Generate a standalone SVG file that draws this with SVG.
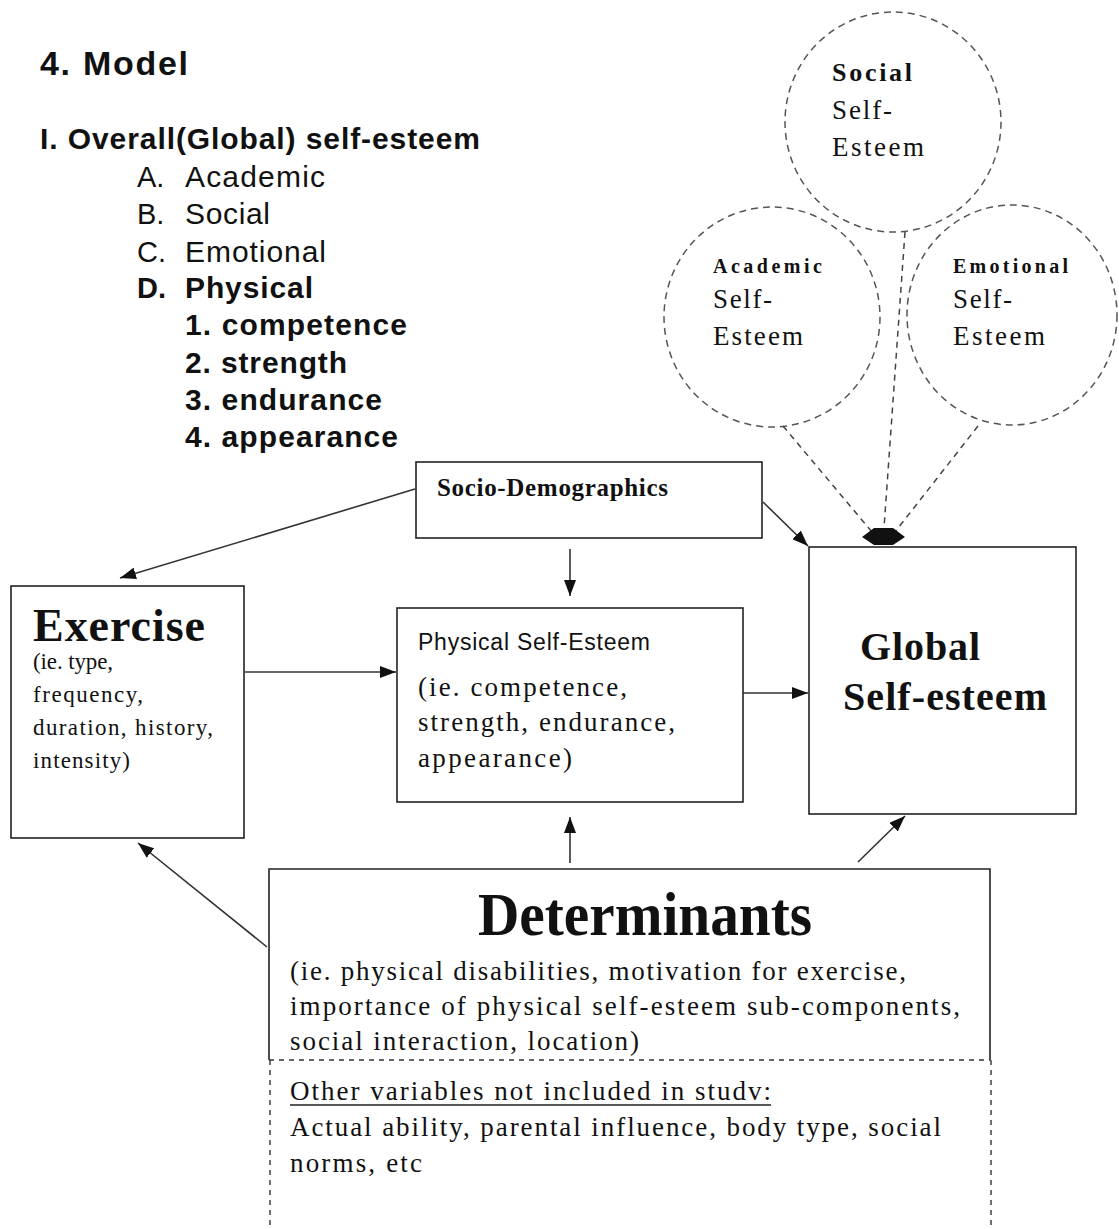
<svg xmlns="http://www.w3.org/2000/svg" width="1119" height="1229" viewBox="0 0 1119 1229">
<style>
  .sans { font-family: "Liberation Sans", Arial, sans-serif; fill: #111; }
  .sb { font-family: "Liberation Sans", Arial, sans-serif; font-weight: bold; fill: #111; }
  .ser { font-family: "Liberation Serif", "Times New Roman", serif; fill: #111; }
  .serb { font-family: "Liberation Serif", "Times New Roman", serif; font-weight: bold; fill: #111; }
  .box { fill: none; stroke: #222; stroke-width: 1.6; }
  .circ { fill: none; stroke: #555; stroke-width: 1.5; stroke-dasharray: 7 5; }
  .conn { fill: none; stroke: #333; stroke-width: 1.6; }
  .dconn { fill: none; stroke: #444; stroke-width: 1.5; stroke-dasharray: 6 5; }
  .dbox { fill: none; stroke: #333; stroke-width: 1.4; stroke-dasharray: 5 5; }
</style>
<defs>
  <marker id="arr" viewBox="0 0 16 12" refX="16" refY="6" markerWidth="16" markerHeight="12" markerUnits="userSpaceOnUse" orient="auto">
    <path d="M0,0 L16,6 L0,12 z" fill="#111"/>
  </marker>
</defs>
<rect width="1119" height="1229" fill="#fff"/>

<g id="outline">
  <text class="sb" x="40" y="75" font-size="34" textLength="148" lengthAdjust="spacing">4. Model</text>
  <text class="sb" x="40" y="149" font-size="30" textLength="440" lengthAdjust="spacing">I. Overall(Global) self-esteem</text>
  <text class="sans" x="137" y="187" font-size="29">A.</text>
  <text class="sans" x="185" y="187" font-size="30" textLength="140" lengthAdjust="spacing">Academic</text>
  <text class="sans" x="137" y="224" font-size="29">B.</text>
  <text class="sans" x="185" y="224" font-size="30" textLength="85" lengthAdjust="spacing">Social</text>
  <text class="sans" x="137" y="262" font-size="29">C.</text>
  <text class="sans" x="185" y="262" font-size="30" textLength="141" lengthAdjust="spacing">Emotional</text>
  <text class="sb" x="137" y="298" font-size="29">D.</text>
  <text class="sb" x="185" y="298" font-size="30" textLength="128" lengthAdjust="spacing">Physical</text>
  <text class="sb" x="185" y="335" font-size="30" textLength="222" lengthAdjust="spacing">1. competence</text>
  <text class="sb" x="185" y="373" font-size="30" textLength="162" lengthAdjust="spacing">2. strength</text>
  <text class="sb" x="185" y="410" font-size="30" textLength="197" lengthAdjust="spacing">3. endurance</text>
  <text class="sb" x="185" y="447" font-size="30" textLength="213" lengthAdjust="spacing">4. appearance</text>
</g>

<g id="node-social">
  <ellipse class="circ" cx="893" cy="122" rx="108" ry="110"/>
  <text class="serb" x="832" y="81" font-size="26" textLength="80" lengthAdjust="spacing">Social</text>
  <text class="ser" x="832" y="119" font-size="27" textLength="60" lengthAdjust="spacing">Self-</text>
  <text class="ser" x="832" y="156" font-size="27" textLength="92" lengthAdjust="spacing">Esteem</text>
</g>

<g id="node-academic">
  <ellipse class="circ" cx="772" cy="317" rx="108" ry="110"/>
  <text class="serb" x="713" y="273" font-size="20" textLength="109" lengthAdjust="spacing">Academic</text>
  <text class="ser" x="713" y="308" font-size="27" textLength="59" lengthAdjust="spacing">Self-</text>
  <text class="ser" x="713" y="345" font-size="27" textLength="90" lengthAdjust="spacing">Esteem</text>
</g>

<g id="node-emotional">
  <ellipse class="circ" cx="1012" cy="315" rx="105" ry="110"/>
  <text class="serb" x="953" y="273" font-size="20" textLength="115" lengthAdjust="spacing">Emotional</text>
  <text class="ser" x="953" y="308" font-size="27" textLength="59" lengthAdjust="spacing">Self-</text>
  <text class="ser" x="953" y="345" font-size="27" textLength="92" lengthAdjust="spacing">Esteem</text>
</g>

<g id="node-socio">
  <rect class="box" x="416" y="462" width="346" height="76"/>
  <text class="serb" x="437" y="496" font-size="25" textLength="231" lengthAdjust="spacing">Socio-Demographics</text>
</g>

<g id="node-exercise">
  <rect class="box" x="11" y="586" width="233" height="252"/>
  <text class="serb" x="33" y="641" font-size="46" textLength="172" lengthAdjust="spacing">Exercise</text>
  <text class="ser" x="33" y="669" font-size="23" textLength="80" lengthAdjust="spacing">(ie. type,</text>
  <text class="ser" x="33" y="702" font-size="23" textLength="110" lengthAdjust="spacing">frequency,</text>
  <text class="ser" x="33" y="735" font-size="23" textLength="180" lengthAdjust="spacing">duration, history,</text>
  <text class="ser" x="33" y="768" font-size="23" textLength="97" lengthAdjust="spacing">intensity)</text>
</g>

<g id="node-physical">
  <rect class="box" x="397" y="608" width="346" height="194"/>
  <text class="sans" x="418" y="650" font-size="23" textLength="232" lengthAdjust="spacing">Physical Self-Esteem</text>
  <text class="ser" x="418" y="696" font-size="27" textLength="209" lengthAdjust="spacing">(ie. competence,</text>
  <text class="ser" x="418" y="731" font-size="27" textLength="257" lengthAdjust="spacing">strength, endurance,</text>
  <text class="ser" x="418" y="767" font-size="27" textLength="154" lengthAdjust="spacing">appearance)</text>
</g>

<g id="node-global">
  <rect class="box" x="809" y="547" width="267" height="267"/>
  <text class="serb" x="860" y="660" font-size="40" textLength="120" lengthAdjust="spacing">Global</text>
  <text class="serb" x="843" y="710" font-size="40" textLength="204" lengthAdjust="spacing">Self-esteem</text>
</g>

<g id="node-determinants">
  <path class="box" d="M269,1060 L269,869 L990,869 L990,1060"/>
  <line class="dbox" x1="269" y1="1060" x2="990" y2="1060"/>
  <line class="dbox" x1="270" y1="1060" x2="270" y2="1229"/>
  <line class="dbox" x1="991" y1="1060" x2="991" y2="1229"/>
  <text class="serb" x="478" y="935" font-size="62" textLength="334" lengthAdjust="spacingAndGlyphs">Determinants</text>
  <text class="ser" x="290" y="980" font-size="27" textLength="616" lengthAdjust="spacing">(ie. physical disabilities, motivation for exercise,</text>
  <text class="ser" x="290" y="1015" font-size="27" textLength="670" lengthAdjust="spacing">importance of physical self-esteem sub-components,</text>
  <text class="ser" x="290" y="1050" font-size="27" textLength="349" lengthAdjust="spacing">social interaction, location)</text>
  <text class="ser" x="290" y="1100" font-size="27" textLength="481" lengthAdjust="spacing">Other variables not included in studv:</text>
  <line x1="290" y1="1105" x2="771" y2="1105" stroke="#222" stroke-width="1.4"/>
  <text class="ser" x="290" y="1136" font-size="27" textLength="651" lengthAdjust="spacing">Actual ability, parental influence, body type, social</text>
  <text class="ser" x="290" y="1172" font-size="27" textLength="132" lengthAdjust="spacing">norms, etc</text>
</g>

<g id="connectors">
  <line class="conn" x1="415" y1="489" x2="120" y2="578" marker-end="url(#arr)"/>
  <line class="conn" x1="570" y1="549" x2="570" y2="596" marker-end="url(#arr)"/>
  <line class="conn" x1="763" y1="502" x2="808" y2="546" marker-end="url(#arr)"/>
  <line class="conn" x1="245" y1="672" x2="396" y2="672" marker-end="url(#arr)"/>
  <line class="conn" x1="743" y1="693" x2="808" y2="693" marker-end="url(#arr)"/>
  <line class="conn" x1="570" y1="863" x2="570" y2="817" marker-end="url(#arr)"/>
  <line class="conn" x1="267" y1="947" x2="138" y2="843" marker-end="url(#arr)"/>
  <line class="conn" x1="858" y1="862" x2="905" y2="816" marker-end="url(#arr)"/>
  <line class="dconn" x1="783" y1="426" x2="872" y2="532"/>
  <line class="dconn" x1="905" y1="232" x2="884" y2="528"/>
  <line class="dconn" x1="978" y1="426" x2="895" y2="532"/>
  <path d="M862,537 L874,528 L893,528 L905,537 L893,545 L874,545 Z" fill="#111"/>
</g>
</svg>
